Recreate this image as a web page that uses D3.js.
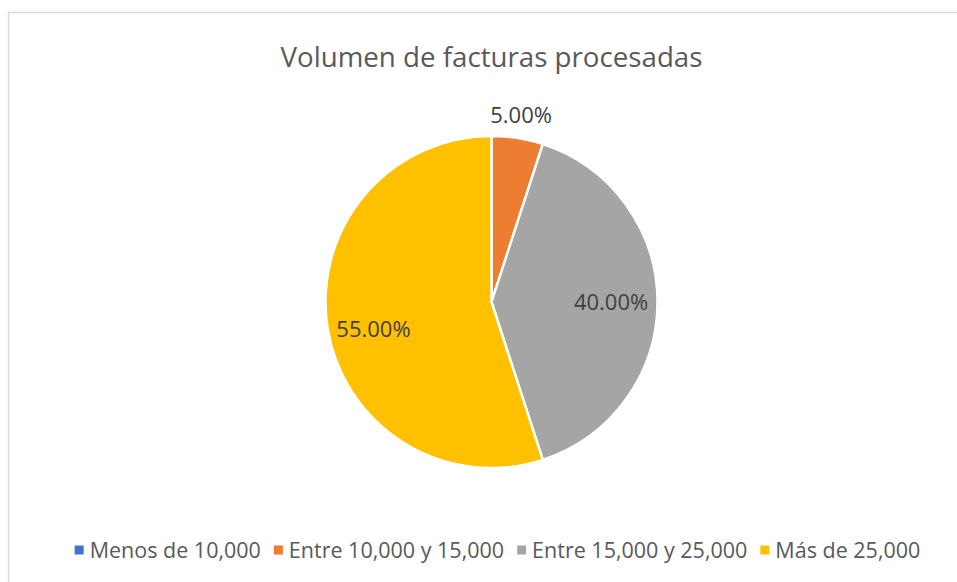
<!DOCTYPE html>
<html>
<head>
<meta charset="utf-8">
<script src="https://cdn.jsdelivr.net/npm/d3@7"></script>
<style>
  html, body { margin: 0; padding: 0; background: #fff; }
  svg { display: block; font-family: "Open Sans", "Noto Sans", sans-serif; }
</style>
</head>
<body>
<svg id="chart"></svg>
<script>
{
    const width = 957, height = 582;

    const title = "Volumen de facturas procesadas";
    const categories = ["Menos de 10,000", "Entre 10,000 y 15,000", "Entre 15,000 y 25,000", "Más de 25,000"];
    const shares = [0, 0.05, 0.40, 0.55];
    const colors = ["#4472C4", "#ED7D31", "#A5A5A5", "#FFC000"];

    const cx = 491.5, cy = 302, radius = 166;

    const svg = d3.select("#chart")
        .attr("width", width)
        .attr("height", height);

    // chart area border (runs off the right and bottom edge)
    svg.append("rect")
        .attr("x", 8.5).attr("y", 12.5)
        .attr("width", 980).attr("height", 620)
        .attr("fill", "#fff")
        .attr("stroke", "#d9d9d9")
        .attr("stroke-width", 1.5);

    svg.append("text")
        .attr("x", cx).attr("y", 67)
        .attr("text-anchor", "middle")
        .attr("font-size", 27.7)
        .attr("fill", "#595959")
        .text(title);

    const color = d3.scaleOrdinal().domain(categories).range(colors);

    const pie = d3.pie().sort(null).value(d => d.value);
    const arcs = pie(categories.map((c, i) => ({name: c, value: shares[i]})));

    const arc = d3.arc().innerRadius(0).outerRadius(radius);
    const labelArc = d3.arc().innerRadius(radius * 0.72).outerRadius(radius * 0.72);
    const outerArc = d3.arc().innerRadius(radius + 23).outerRadius(radius + 23);

    const g = svg.append("g").attr("transform", `translate(${cx}, ${cy})`);

    g.selectAll("path")
        .data(arcs.filter(d => d.value > 0))
        .enter()
            .append("path")
            .attr("d", arc)
            .attr("fill", d => color(d.data.name))
            .attr("stroke", "#fff")
            .attr("stroke-width", 2.5)
            .attr("stroke-linejoin", "round");

    const fmt = d3.format(".2%");

    g.selectAll("text.lbl")
        .data(arcs.filter(d => d.value > 0))
        .enter()
            .append("text")
            .attr("class", "lbl")
            .attr("transform", d => {
                const p = d.value < 0.1 ? outerArc.centroid(d) : labelArc.centroid(d);
                // big slice label sits a little lower, like Excel's best fit
                const dy = d.value > 0.5 ? 9 : 0;
                return `translate(${p[0]}, ${p[1] + dy})`;
            })
            .attr("text-anchor", "middle")
            .attr("dy", "0.35em")
            .attr("font-size", 22)
            .attr("fill", "#404040")
            .text(d => fmt(d.value));

    // legend, laid out left to right and centred
    const legend = svg.append("g").attr("transform", "translate(0, 550)");
    const items = legend.selectAll("g")
        .data(categories)
        .enter()
            .append("g");

    items.append("rect")
        .attr("width", 9).attr("height", 9)
        .attr("y", -4.5)
        .attr("fill", d => color(d));

    items.append("text")
        .attr("x", 15)
        .attr("dy", "0.35em")
        .attr("font-size", 21.5)
        .attr("fill", "#595959")
        .text(d => d);

    const gap = 13;
    const widths = items.nodes().map(n => 15 + n.querySelector("text").getComputedTextLength());
    const total = d3.sum(widths) + gap * (widths.length - 1);
    let x = 497.5 - total / 2;
    items.attr("transform", (d, i) => {
        const t = `translate(${x}, 0)`;
        x += widths[i] + gap;
        return t;
    });
}
</script>
</body>
</html>
